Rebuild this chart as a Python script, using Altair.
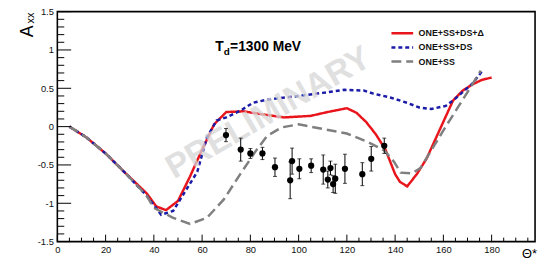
import altair as alt
import pandas as pd

# ---------------- data ----------------
series_names = ["ONE+SS+DS+Δ", "ONE+SS+DS", "ONE+SS"]

red_x = [5, 12, 20, 28, 37, 41, 45, 50, 55, 60, 65, 70, 77, 85, 94, 105, 112, 120, 124, 128,
         132, 136, 140, 142, 145, 149, 153, 164, 168, 172, 176, 180]
red_y = [0, -0.14, -0.35, -0.60, -0.87, -1.04, -1.09, -0.97, -0.65, -0.30, 0.03, 0.19, 0.20, 0.16,
         0.12, 0.14, 0.19, 0.24, 0.18, 0.06, -0.10, -0.30, -0.62, -0.72, -0.78, -0.62, -0.42,
         0.34, 0.47, 0.55, 0.61, 0.64]

blue_x = [5, 12, 20, 28, 37, 43, 48, 52.5, 58, 62, 66, 70, 76, 81, 86.5, 100, 110, 119, 127, 131,
          138, 145, 150, 155, 161, 164, 168, 172, 176]
blue_y = [0, -0.14, -0.35, -0.60, -0.90, -1.15, -1.10, -0.87, -0.59, -0.14, 0.08, 0.12, 0.21, 0.31,
          0.35, 0.40, 0.44, 0.48, 0.47, 0.43, 0.38, 0.31, 0.25, 0.23, 0.27, 0.34, 0.45, 0.56, 0.72]

gray_x = [5, 12, 20, 28, 37, 40, 48, 55, 62, 69, 75.6, 82.4, 87, 93, 100, 110, 120, 128.7, 135.5,
          139.6, 142.3, 147, 150.5, 155, 160, 166, 172, 175.5]
gray_y = [0, -0.14, -0.35, -0.60, -0.90, -1.06, -1.19, -1.27, -1.19, -0.95, -0.63, -0.31, -0.12,
          -0.01, 0.03, -0.03, -0.09, -0.20, -0.31, -0.46, -0.60, -0.61, -0.54, -0.31, -0.05, 0.25,
          0.55, 0.73]

pt_x = [69.9, 76.0, 80.0, 85.0, 90.2, 96.5, 97.3, 100.3, 105.2, 110.2, 112.1, 113.2, 114.3, 115.2,
        119.2, 126.4, 130.1, 135.5]
pt_y = [-0.11, -0.30, -0.35, -0.35, -0.53, -0.70, -0.45, -0.55, -0.51, -0.56, -0.69, -0.54, -0.75,
        -0.68, -0.55, -0.62, -0.42, -0.25]
pt_err = [0.086, 0.15, 0.065, 0.08, 0.12, 0.24, 0.17, 0.13, 0.09, 0.19, 0.11, 0.09, 0.11, 0.19,
          0.19, 0.15, 0.16, 0.10]

x_major = [0, 20, 40, 60, 80, 100, 120, 140, 160, 180]
x_minor = [v for v in range(5, 200, 5) if v % 20 != 0]
y_major = [-1.5, -1.0, -0.5, 0.0, 0.5, 1.0, 1.5]
y_minor = [round(-1.4 + 0.1 * i, 1) for i in range(29) if round((-1.4 + 0.1 * i) * 10) % 5 != 0]

watermark = ["PRELIMINARY"]
energy_label = ["T", "d", "=1300 MeV"]
y_title = ["A", "xx"]
x_title = ["Θ*"]

# ---------------- build ----------------
W, H = 484, 233
FONT = "Liberation Sans"

frames = []
for name, xs, ys in zip(series_names, [red_x, blue_x, gray_x], [red_y, blue_y, gray_y]):
    frames.append(pd.DataFrame({"x": xs, "y": ys, "series": name, "order": range(len(xs))}))
lines_df = pd.concat(frames, ignore_index=True)

pts_df = pd.DataFrame({"x": pt_x, "y": pt_y,
                       "lo": [a - b for a, b in zip(pt_y, pt_err)],
                       "hi": [a + b for a, b in zip(pt_y, pt_err)]})

x_scale = alt.Scale(domain=[0, 198], nice=False, zero=False)
y_scale = alt.Scale(domain=[-1.5, 1.5], nice=False, zero=False)

x_axis = alt.Axis(values=x_major, ticks=False, tickSize=0, domain=False, grid=False, title=None,
                  labelPadding=3, labelFontSize=9.5, labelFont=FONT, labelColor="#111",
                  labelFlush=False, labelOverlap=False)
y_axis = alt.Axis(values=y_major, ticks=False, tickSize=0, domain=False, grid=False, title=None,
                  labelPadding=4, labelFontSize=9.5, labelFont=FONT, labelColor="#111",
                  labelFlush=False, labelOverlap=False,
                  labelExpr="datum.value == 0 ? '0' : toString(datum.value)")


def X(field):
    return alt.X(field, scale=x_scale, axis=x_axis, title=None)


def Y(field):
    return alt.Y(field, scale=y_scale, axis=y_axis, title=None)


legend = alt.Legend(title=None, orient="none", legendX=337, legendY=15, symbolType="stroke",
                    symbolSize=484, symbolStrokeWidth=2.5, clipHeight=14, rowPadding=0.3,
                    labelOffset=4, labelFont=FONT, labelFontSize=9, labelFontWeight="bold",
                    labelColor="#111", padding=0)

color_scale = alt.Scale(domain=series_names, range=["#e8161c", "#1b1ba8", "#7f7f7f"])
dash_scale = alt.Scale(domain=series_names, range=[[1, 0], [4, 3], [10, 5]])

lines = alt.Chart(lines_df).mark_line(strokeWidth=2.5).encode(
    x=X("x:Q"),
    y=Y("y:Q"),
    color=alt.Color("series:N", scale=color_scale, legend=legend),
    strokeDash=alt.StrokeDash("series:N", scale=dash_scale, legend=legend),
    order="order:Q",
)

xt_major = alt.Chart(pd.DataFrame({"x": x_major})).mark_rule(color="black", strokeWidth=1).encode(
    x=X("x:Q"), y=alt.value(H), y2=alt.value(H - 7))
xt_minor = alt.Chart(pd.DataFrame({"x": x_minor})).mark_rule(color="black", strokeWidth=1).encode(
    x=X("x:Q"), y=alt.value(H), y2=alt.value(H - 4))
yt_major = alt.Chart(pd.DataFrame({"y": y_major})).mark_rule(color="black", strokeWidth=1).encode(
    y=Y("y:Q"), x=alt.value(0), x2=alt.value(14))
yt_minor = alt.Chart(pd.DataFrame({"y": y_minor})).mark_rule(color="black", strokeWidth=1).encode(
    y=Y("y:Q"), x=alt.value(0), x2=alt.value(7))

wm = alt.Chart(pd.DataFrame({"t": watermark})).mark_text(
    angle=330, fontSize=34, fontWeight="bold", font=FONT, color="#d6d6d6", opacity=0.75,
    align="center", baseline="middle").encode(
    x=alt.value(214), y=alt.value(103), text="t:N")

err = alt.Chart(pts_df).mark_rule(color="black", strokeWidth=1).encode(
    x=X("x:Q"), y=Y("lo:Q"), y2="hi:Q")
cap_lo = alt.Chart(pts_df).mark_tick(color="black", orient="horizontal", size=4, thickness=1).encode(
    x=X("x:Q"), y=Y("lo:Q"))
cap_hi = alt.Chart(pts_df).mark_tick(color="black", orient="horizontal", size=4, thickness=1).encode(
    x=X("x:Q"), y=Y("hi:Q"))
dots = alt.Chart(pts_df).mark_circle(color="black", size=40, opacity=1).encode(
    x=X("x:Q"), y=Y("y:Q"))


def label(txt, x, y, size, weight="bold", angle=0, align="left"):
    return alt.Chart(pd.DataFrame({"t": [txt]})).mark_text(
        fontSize=size, fontWeight=weight, font=FONT, color="black", align=align,
        baseline="alphabetic", angle=angle).encode(x=alt.value(x), y=alt.value(y), text="t:N")


t1 = label(energy_label[0], 160, 40, 14)
t2 = label(energy_label[1], 168.6, 43.5, 10)
t3 = label(energy_label[2], 175, 40, 14)
ya = label(y_title[0], -25, 26, 18, weight="normal", angle=270)
yx = label(y_title[1], -24, 12, 11, weight="normal", angle=270)
xth = label(x_title[0], 486, 250, 13, weight="normal", align="right")

chart = alt.layer(
    lines, xt_major, xt_minor, yt_major, yt_minor, wm, err, cap_lo, cap_hi, dots,
    t1, t2, t3, ya, yx, xth
).properties(
    width=W, height=H,
    autosize=alt.AutoSizeParams(type="none"),
    padding={"left": 50, "top": 2, "right": 4, "bottom": 20},
    background="white",
).configure_view(stroke="black", strokeWidth=1.6)

chart.save("out.html", embed_options={"renderer": "svg", "actions": False})
